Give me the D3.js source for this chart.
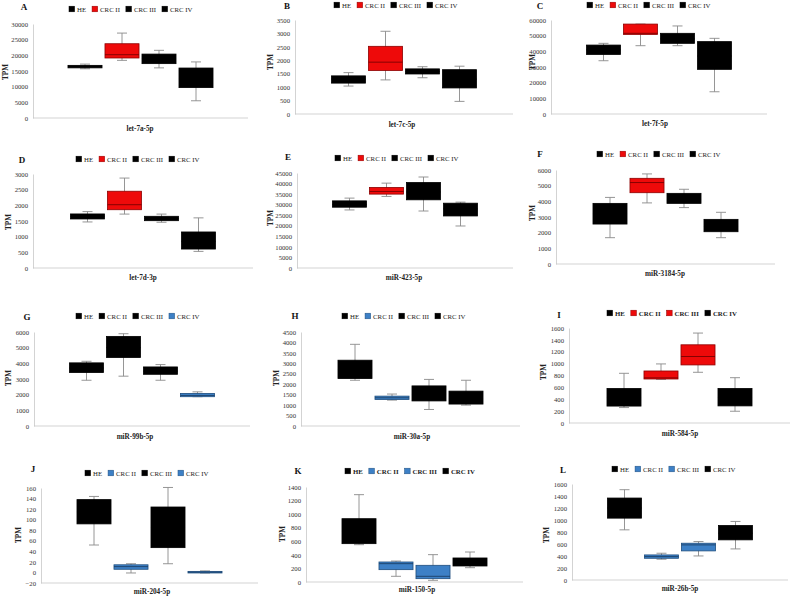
<!DOCTYPE html>
<html><head><meta charset="utf-8">
<script src="https://cdn.jsdelivr.net/npm/d3@7"></script>
<style>
html,body{margin:0;padding:0;background:#fff;}
svg{display:block;font-family:"Liberation Serif","Times New Roman",serif;}
</style></head>
<body><svg id="c" width="793" height="597"></svg>
<script>
// ---- data ----
const groups = ["HE", "CRC II", "CRC III", "CRC IV"];
const letters = ["A","B","C","D","E","F","G","H","I","J","K","L"];
const mirnas = ["let-7a-5p","let-7c-5p","let-7f-5p","let-7d-3p","miR-423-5p","miR-3184-5p",
                "miR-99b-5p","miR-30a-5p","miR-584-5p","miR-204-5p","miR-150-5p","miR-26b-5p"];
// [min, q1, median, q3, max] per group
const statsA = [[15700,16000,16500,16800,17200],[18400,19150,20200,23700,27100],[16000,17350,19000,20400,21600],[5500,9700,12500,15950,17900]];
const statsB = [[1040,1150,1300,1420,1540],[1270,1620,1930,2520,3080],[1350,1490,1580,1680,1760],[470,970,1300,1650,1780]];
const statsC = [[34000,38000,41000,44000,45100],[43600,50800,51500,57400,57400],[43600,45100,48000,51500,56200],[14200,28500,37000,46200,48300]];
const statsD = [[1470,1565,1650,1725,1800],[1720,1860,2020,2450,2870],[1460,1510,1580,1650,1720],[530,605,850,1150,1600]];
const statsE = [[27500,28800,30000,31800,33100],[33900,35000,36250,38150,40200],[27000,32300,36000,40500,43100],[19900,24650,28000,30700,31200]];
const statsF = [[1680,2550,3200,3870,4250],[3900,4550,5200,5470,5750],[3600,3870,4100,4510,4770],[1680,2060,2400,2850,3300]];
const statsG = [[2920,3410,3700,4030,4130],[3180,4370,5000,5720,5890],[2920,3300,3500,3770,3920],[1870,1870,1950,2080,2180]];
const statsH = [[2190,2270,2700,3150,3910],[1240,1270,1350,1430,1530],[790,1200,1500,1920,2230],[1000,1050,1300,1670,2190]];
const statsI = [[260,285,430,582,837],[735,741,760,876,995],[854,978,1120,1317,1515],[198,288,430,582,763]];
const statsJ = [[52,92,115,138,144],[-1,6,11,14.5,16.5],[16.5,47,85,124,161],[-1,-1,0.5,2,3]];
const statsK = [[550,565,750,933,1287],[84,182,270,295,309],[25,49,84,246,403],[211,236,280,354,442]];
const statsL = [[836,1031,1200,1366,1505],[346,362,390,418,446],[401,485,585,613,641],[518,669,780,909,976]];
// colour scheme per panel (index into palette)
const colorsA = ["k","r","k","k"], colorsB = ["k","r","k","k"], colorsC = ["k","r","k","k"];
const colorsD = ["k","r","k","k"], colorsE = ["k","r","k","k"], colorsF = ["k","r","k","k"];
const colorsG = ["k","k","k","b"], colorsH = ["k","b","k","k"], colorsI = ["k","r","r","k"];
const colorsJ = ["k","b","k","b"], colorsK = ["k","b","b","k"], colorsL = ["k","b","b","k"];
// y-axis domain [min, max, step]
const yAxisA = [0,30000,5000], yAxisB = [0,3500,500], yAxisC = [0,60000,10000];
const yAxisD = [0,3000,500], yAxisE = [0,45000,5000], yAxisF = [0,6000,1000];
const yAxisG = [0,6000,1000], yAxisH = [0,4500,500], yAxisI = [0,1600,200];
const yAxisJ = [-20,160,20], yAxisK = [0,1400,200], yAxisL = [0,1600,200];

const allStats = [statsA,statsB,statsC,statsD,statsE,statsF,statsG,statsH,statsI,statsJ,statsK,statsL];
const allColors = [colorsA,colorsB,colorsC,colorsD,colorsE,colorsF,colorsG,colorsH,colorsI,colorsJ,colorsK,colorsL];
const allAxes = [yAxisA,yAxisB,yAxisC,yAxisD,yAxisE,yAxisF,yAxisG,yAxisH,yAxisI,yAxisJ,yAxisK,yAxisL];
const boldLegend = [false,false,false,false,false,false,false,false,true,false,true,false];

// ---- layout (pixels) ----
const layout = [
 {lx:24,ly:7,  gx:69, gy:9,  ax:33, top:24, bot:118, right:248, tx:6,  ty:72,  xl:140, xy:129},
 {lx:287,ly:6, gx:334,gy:5,  ax:295,top:20, bot:114, right:513, tx:271,ty:62,  xl:402, xy:125},
 {lx:540,ly:6, gx:587,gy:5,  ax:551,top:20, bot:114, right:767, tx:533,ty:62,  xl:655, xy:124},
 {lx:22,ly:160,gx:76, gy:159,ax:33, top:174,bot:268, right:253, tx:9,  ty:222, xl:143, xy:278},
 {lx:288,ly:157,gx:335,gy:158,ax:297,top:173,bot:268,right:513, tx:271,ty:218, xl:404, xy:278},
 {lx:540,ly:154,gx:597,gy:154,ax:556,top:170,bot:264,right:775, tx:533,ty:213, xl:665, xy:274},
 {lx:27,ly:317,gx:76, gy:316,ax:34, top:332,bot:426, right:250, tx:9,  ty:378, xl:135, xy:437},
 {lx:295,ly:316,gx:342,gy:316,ax:301,top:332,bot:426,right:520, tx:277,ty:378, xl:412, xy:437},
 {lx:559,ly:315,gx:607,gy:313,ax:569,top:328,bot:423,right:790, tx:544,ty:372, xl:680, xy:434},
 {lx:33,ly:469,gx:85, gy:473,ax:41, top:488,bot:583, right:258, tx:19, ty:535, xl:152, xy:592},
 {lx:298,ly:471,gx:345,gy:471,ax:306,top:487,bot:582,right:523, tx:283,ty:534, xl:417, xy:590},
 {lx:563,ly:470,gx:612,gy:469,ax:572,top:484,bot:580,right:788, tx:547,ty:535, xl:680, xy:589}
];
const palette = {
  k:{fill:"#000000", stroke:"#000000", med:"#000000"},
  r:{fill:"#ee0a0a", stroke:"#8c0000", med:"#7a0000"},
  b:{fill:"#3d80c6", stroke:"#1f4e7e", med:"#1c3f66"}
};

const svg = d3.select("#c");

allStats.forEach((stats, i) => {
  const L = layout[i], ax = allAxes[i], cols = allColors[i];
  const g = svg.append("g");
  const y = d3.scaleLinear().domain([ax[0], ax[1]]).range([L.bot, L.top]);
  const cx = (L.ax + L.right) / 2;
  const x = d3.scaleBand().domain(groups).range([cx - 74, cx + 74]).paddingInner(0.08).paddingOuter(0.04);

  // panel letter
  g.append("text").attr("x", L.lx).attr("y", L.ly).attr("text-anchor","middle")
    .attr("dominant-baseline","central").attr("font-weight","bold").attr("font-size",9)
    .attr("fill","#111").text(letters[i]);

  // legend
  let lxp = L.gx;
  groups.forEach((grp, j) => {
    const c = palette[cols[j]];
    g.append("rect").attr("x", lxp).attr("y", L.gy - 2.8).attr("width", 5.6).attr("height", 5.6)
      .attr("fill", c.fill).attr("stroke", c.stroke).attr("stroke-width", 0.5);
    const t = g.append("text").attr("x", lxp + 8).attr("y", L.gy).attr("dominant-baseline","central")
      .attr("font-size", 6.8).attr("fill","#222").attr("font-weight", boldLegend[i] ? "bold" : "normal").text(grp);
    lxp += 8 + t.node().getComputedTextLength() + 6;
  });

  // axes
  const ticks = d3.range(ax[0], ax[1] + ax[2] / 2, ax[2]);
  const yAxis = d3.axisLeft(y).tickValues(ticks).tickSize(0).tickPadding(5).tickFormat(d3.format("d"));
  const ya = g.append("g").attr("transform", `translate(${L.ax},0)`).call(yAxis);
  ya.select(".domain").attr("stroke","#c8c8c8").attr("stroke-width",0.8);
  ya.selectAll("text").attr("font-size",6.7).attr("fill","#333").attr("font-family","'Liberation Serif',serif");
  g.append("line").attr("x1", L.ax).attr("x2", L.right).attr("y1", L.bot).attr("y2", L.bot)
    .attr("stroke","#c8c8c8").attr("stroke-width",0.8);

  // axis titles
  g.append("text").attr("transform", `translate(${L.tx},${L.ty}) rotate(-90)`).attr("text-anchor","middle")
    .attr("dominant-baseline","central").attr("font-weight","bold").attr("font-size",7.2).attr("fill","#222").text("TPM");
  g.append("text").attr("x", L.xl).attr("y", L.xy).attr("text-anchor","middle").attr("dominant-baseline","central")
    .attr("font-weight","bold").attr("font-size",7.2).attr("fill","#222").text(mirnas[i]);

  // boxes
  const bw = x.bandwidth();
  stats.forEach((s, j) => {
    const c = palette[cols[j]];
    const x0 = x(groups[j]), xm = x0 + bw / 2;
    const bg = g.append("g");
    bg.append("line").attr("x1", xm).attr("x2", xm).attr("y1", y(s[0])).attr("y2", y(s[4]))
      .attr("stroke","#8a8a8a").attr("stroke-width",0.9);
    [s[0], s[4]].forEach(v => bg.append("line").attr("x1", xm - 5).attr("x2", xm + 5)
      .attr("y1", y(v)).attr("y2", y(v)).attr("stroke","#8a8a8a").attr("stroke-width",0.9));
    bg.append("rect").attr("x", x0).attr("y", y(s[3])).attr("width", bw)
      .attr("height", Math.max(1, y(s[1]) - y(s[3]))).attr("fill", c.fill)
      .attr("stroke", c.stroke).attr("stroke-width", 0.8);
    bg.append("line").attr("x1", x0).attr("x2", x0 + bw).attr("y1", y(s[2])).attr("y2", y(s[2]))
      .attr("stroke", c.med).attr("stroke-width", 0.9);
  });
});
</script></body></html>
